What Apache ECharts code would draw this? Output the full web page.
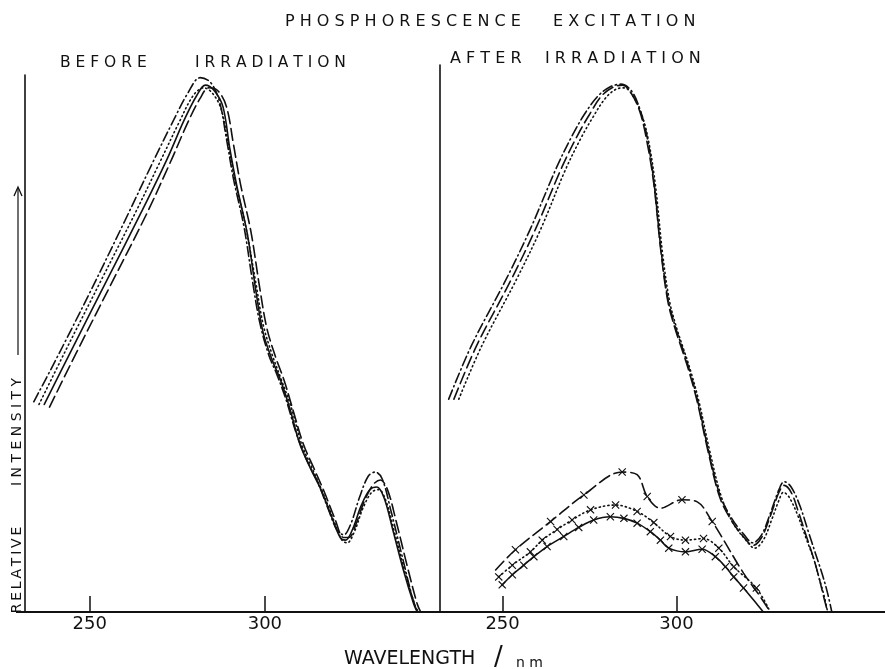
<!DOCTYPE html>
<html>
<head>
<meta charset="utf-8">
<script src="https://cdn.jsdelivr.net/npm/echarts@6/dist/echarts.min.js"></script>
<style>
html,body{margin:0;padding:0;background:#fff;}
#chart{width:885px;height:669px;}
</style>
</head>
<body>
<div id="chart"></div>
<script>
// ---------- DATA (wavelength nm, relative intensity) ----------
const tickValues = [250, 300];

// BEFORE IRRADIATION
const beforeDashDot = [[234,39.5],[240,47],[250,60],[260,73.5],[268,84.5],[274,92.5],[278,97.5],[281.5,100.4],[284.5,99.5],[287,96],[289,89],[291,81.5],[294,72.5],[296.5,62],[298.5,54.5],[301,48.5],[303.5,44.5],[306,40],[309,33.5],[312,28.5],[315,24.5],[318,19.5],[320.5,15.5],[322.5,14.5],[324.5,16.5],[327,21.5],[329.5,25.5],[331.5,26.3],[333.5,25],[336,19],[339,11],[342,3],[343.5,0]];
const beforeDotted = [[235.5,39],[243,49],[253,62],[263,75],[270,84.5],[275.5,92],[279.5,97],[282.5,98.5],[285,97.5],[287.5,94.5],[289.5,88],[291.5,81],[294.5,72.5],[297.5,61.5],[299.5,54],[302,48.5],[304.5,44],[307.5,38.5],[310.5,31.5],[313.5,27],[316.5,22.5],[319.5,17.5],[322,13.5],[323.5,13],[325.5,15],[328,19.5],[330.5,22.5],[332.5,23],[334.5,21],[337,15],[340,7.5],[343,1],[344,0]];
const beforeSolid = [[237,39],[245,49.5],[255,62.5],[265,75.5],[272,85],[277,92.5],[280.5,97],[283,99],[285.5,98],[288,95],[290,87],[292,80],[295,71],[297.5,60],[299.5,52.5],[302,47.5],[304.5,43.5],[307,38.5],[310,31.5],[313,27],[316,23],[319,18],[321.5,14],[323,13.5],[325,15.5],[327.5,20],[330,23],[332,23.5],[334,21.5],[336.5,15.5],[339.5,8],[342.5,1.5],[343.5,0]];
const beforeDashed = [[238.5,38.5],[246,48.5],[256,61.5],[266,74.5],[273,84.5],[278,92],[281.5,96.5],[284,98.5],[286.5,98],[289,95],[291,88],[293,80.5],[296,71.5],[298.5,61],[300.5,53.5],[303,48],[305.5,43.5],[308,38],[311,31.5],[314,27],[317,22.5],[320,17.5],[322.5,14],[324,14],[326,16.5],[328.5,21],[331,24],[333,24.8],[335,23],[337.5,17],[340.5,9],[343.5,1.5],[344.5,0]];

// AFTER IRRADIATION (upper curves)
const afterDashDot = [[234.5,40],[241,50],[251,62.5],[258,72],[265.5,83.5],[270,89.5],[273.5,93.5],[277.5,97],[281,98.7],[284,99.2],[287,98],[289.5,94.5],[291.5,89.5],[293.5,81],[295.5,68.5],[297.5,59],[299.5,54],[301,51],[303.5,46],[306,40],[309,31],[312.5,22],[316,17.5],[319.5,14.5],[322,13],[324.5,14.5],[327,18.5],[329.5,23],[331,24.5],[333,23.5],[335.5,20],[338,15],[340,11],[342,7],[343.5,3.5],[344.7,0]];
const afterDashed = [[236,40],[242.5,50],[252.5,62.5],[259.5,72],[267,83.5],[271.5,89.5],[275,93.5],[278.5,97],[282,98.7],[284.5,99],[287,97.5],[289.5,94],[291.5,88.5],[293.5,80.5],[295.5,68],[297.5,58.5],[299.5,53.5],[301,50.5],[303.5,45.5],[306,39.5],[309,30.5],[312.5,21.5],[316,17],[319.5,14],[322,12.5],[324.5,14],[327,18],[329.5,22.5],[331,23.8],[333,22.5],[335,19],[337.5,14],[339.5,10],[341,6.5],[342.5,2.5],[343.5,0]];
const afterDotted = [[237.4,40],[244,50],[254,62.5],[261,72],[268,83],[272.5,89],[276,93],[279.5,96.5],[282.5,98.2],[285,98.5],[287.5,97],[290,93.5],[292,88.5],[294,80],[296,67.5],[298,58.5],[300,53.5],[301.5,50.5],[304,45.5],[306.5,39.5],[309.5,30.5],[313,21.5],[316.5,16.5],[320,13.5],[322.5,12],[325,13.5],[327.5,17.5],[329.5,21],[330.8,22.5],[332.5,21.5],[335,18],[337.5,13.5],[339.5,10],[341,6.5],[342.5,3],[343.5,0]];

// AFTER IRRADIATION (lower curves with crosses; third value 1 = cross marker)
const afterDashedX = [[248,7.9,0],[253.7,11.7,1],[263.8,17,1],[273.4,22,1],[284.4,26.3,1],[288.7,25.8,0],[291.6,21.7,1],[295.4,19.5,0],[301.6,21.1,1],[306,20.7,0],[310.3,17,1],[313.6,13.5,0],[319.3,7.3,0],[324.1,2.9,0],[327,0,0]];
const afterDottedX = [[248.9,6.6,1],[252.8,8.8,1],[258,11.3,1],[261.4,13.5,1],[265.7,15.5,1],[270,17.3,1],[275.3,19.2,1],[282.5,20.1,1],[288.7,18.9,1],[293.5,16.8,1],[298.3,14.2,1],[302.6,13.5,1],[307.8,13.8,1],[312.2,12,1],[316.5,8.5,1],[323,4.5,1],[327,0,0]];
const afterSolidX = [[249.9,5.1,1],[252.8,7,1],[256.1,8.8,1],[259,10.4,1],[262.8,12.3,1],[267.6,14.2,1],[271.9,15.9,1],[276.2,17.3,1],[281,17.9,1],[284.9,17.6,1],[288.7,16.7,1],[292.5,15.1,1],[295.4,13.5,1],[297.8,12,1],[302.6,11.3,1],[307.4,11.8,1],[311.2,10.4,1],[314.1,8.5,1],[316.5,6.6,1],[319.3,4.5,1],[322.5,2,0],[325,0,0]];

// ---------- STYLE ----------
const INK = '#111';
const DASHDOT = [10, 3.5, 1.2, 3.5];
const DOTTED = [1.2, 3.2];
const DASHED = [12, 5];
const SOLID = 'solid';
const CROSS = 'path://M0,1L1,0L5,4L9,0L10,1L6,5L10,9L9,10L5,6L1,10L0,9L4,5Z';
const FONT = 'DejaVu Sans';

function spaced(s, sep) { return s.split('').join(sep === undefined ? ' ' : sep); }

function mk(data, idx, dash) {
  const hasMarks = data.length && data[0].length > 2;
  return {
    type: 'line',
    xAxisIndex: idx, yAxisIndex: idx,
    smooth: 0.35,
    animation: false,
    showSymbol: hasMarks,
    symbol: hasMarks ? CROSS : 'none',
    symbolSize: 8,
    itemStyle: { color: INK },
    lineStyle: { color: INK, width: 1.6, type: dash, cap: 'round' },
    data: data.map(p => hasMarks
      ? { value: [p[0], p[1]], symbol: p[2] ? CROSS : 'none' }
      : [p[0], p[1]])
  };
}

function xAxisCfg(idx, min, max) {
  return {
    type: 'value', gridIndex: idx, min: min, max: max,
    axisLine: { show: true, onZero: false, lineStyle: { color: INK, width: 2 } },
    axisTick: { show: true, inside: true, length: 16, customValues: tickValues, lineStyle: { color: INK, width: 1.5 } },
    axisLabel: { show: true, customValues: tickValues, margin: 3, color: INK, fontFamily: FONT, fontSize: 18 },
    splitLine: { show: false }
  };
}
function yAxisCfg(idx, max) {
  return {
    type: 'value', gridIndex: idx, min: 0, max: max,
    axisLine: { show: true, lineStyle: { color: INK, width: 1.6 } },
    axisTick: { show: false }, axisLabel: { show: false }, splitLine: { show: false }
  };
}

function txt(text, x, y, size, extra) {
  return Object.assign({ type: 'text', x: x, y: y,
    style: { text: text, fill: INK, fontFamily: FONT, fontSize: size, verticalAlign: 'middle', align: 'left' } }, extra || {});
}

const chart = echarts.init(document.getElementById('chart'), null, { renderer: 'canvas' });
chart.setOption({
  backgroundColor: '#fff',
  animation: false,
  grid: [
    { left: 25, top: 75, width: 415, bottom: 57 },
    { left: 440, top: 65, right: 0, bottom: 57 }
  ],
  xAxis: [ xAxisCfg(0, 231.5, 350), xAxisCfg(1, 232, 360) ],
  yAxis: [ yAxisCfg(0, 100.9), yAxisCfg(1, 102.8) ],
  series: [
    mk(beforeDashDot, 0, DASHDOT),
    mk(beforeDotted, 0, DOTTED),
    mk(beforeSolid, 0, SOLID),
    mk(beforeDashed, 0, DASHED),
    mk(afterDashDot, 1, DASHDOT),
    mk(afterDashed, 1, DASHED),
    mk(afterDotted, 1, DOTTED),
    mk(afterDashedX, 1, DASHED),
    mk(afterDottedX, 1, DOTTED),
    mk(afterSolidX, 1, SOLID)
  ],
  graphic: [
    txt(spaced('PHOSPHORESCENCE'), 285, 22, 16),
    txt(spaced('EXCITATION'), 553, 22, 16),
    txt(spaced('BEFORE'), 60, 63, 15.5),
    txt(spaced('IRRADIATION'), 195, 63, 15.5),
    txt(spaced('AFTER'), 450, 59, 16),
    txt(spaced('IRRADIATION'), 545, 59, 16),
    txt('WAVELENGTH', 344, 659, 19),
    txt('/', 494, 658, 26),
    txt('n m', 516, 663, 14),
    txt(spaced('RELATIVE', '\u2009'), 17, 570, 14, { rotation: Math.PI / 2, style: { text: spaced('RELATIVE', '\u2009'), fill: INK, fontFamily: FONT, fontSize: 14, align: 'center', verticalAlign: 'middle' } }),
    txt(spaced('INTENSITY'), 17, 432, 14, { rotation: Math.PI / 2, style: { text: spaced('INTENSITY'), fill: INK, fontFamily: FONT, fontSize: 14, align: 'center', verticalAlign: 'middle' } }),
    { type: 'line', shape: { x1: 18, y1: 355, x2: 18, y2: 188 }, style: { stroke: INK, lineWidth: 1.2 } },
    { type: 'polyline', shape: { points: [[14, 196], [18, 187], [22, 196]] }, style: { stroke: INK, lineWidth: 1.3, fill: null } },
    { type: 'line', shape: { x1: 16, y1: 612, x2: 25, y2: 612 }, style: { stroke: INK, lineWidth: 2 } }
  ]
});
</script>
</body>
</html>
